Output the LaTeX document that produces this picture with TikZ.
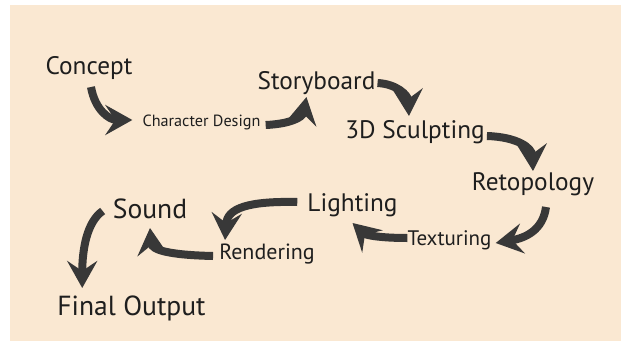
\documentclass[tikz,border=0pt]{standalone}
\usepackage{fontspec}
\setmainfont{PT Sans}
\usetikzlibrary{arrows.meta}
\definecolor{bg}{HTML}{FAE8D2}
\definecolor{ink}{HTML}{1E1E1E}
\definecolor{arrowc}{HTML}{383838}
\begin{document}
\begin{tikzpicture}[x=1pt,y=-1pt,
  lbl/.style={anchor=base, inner sep=0pt, text=ink, font=\fontsize{25.3}{27}\selectfont},
  big/.style={lbl, font=\fontsize{27.6}{29}\selectfont},
  mid/.style={lbl, font=\fontsize{21.5}{23}\selectfont},
  small/.style={lbl, font=\fontsize{16.2}{18}\selectfont},
  flow/.style={draw=arrowc, line width=8pt, -{Stealth[length=27pt,width=30pt,inset=10pt]}}]
\fill[white] (0,0) rectangle (621,343);
\fill[bg] (10,5) rectangle (621,341);
\useasboundingbox (0,0) rectangle (621,343);

\node[lbl]   (concept)    at (89,74)    {Concept};
\node[small] (chardesign) at (201.5,126) {Character Design};
\node[lbl]   (storyboard) at (316.5,89)  {Storyboard};
\node[lbl]   (sculpt)     at (415,138)   {3D Sculpting};
\node[lbl]   (retopo)     at (533,190)   {Retopology};
\node[mid, font=\fontsize{21}{23}\selectfont] (texturing) at (449.5,245) {Texturing};
\node[lbl]   (lighting)   at (352.5,211) {Lighting};
\node[mid, font=\fontsize{22}{24}\selectfont] (rendering) at (267,259) {Rendering};
\node[big]   (sound)      at (150,218)   {Sound};
\node[big]   (final)      at (131.5,315) {Final Output};

\draw[flow] ([shift={(2,13)}]concept.base) .. controls +(4,23) and +(-23,0) .. ([shift={(-10,-6)}]chardesign.base west);
\draw[flow] ([shift={(5,-1)}]chardesign.base east) .. controls +(23,-1) and +(-4,21) .. ([shift={(-10,8)}]storyboard.base);
\draw[flow] ([shift={(2,-6)}]storyboard.base east) .. controls +(19,1) and +(-1,-21) .. ([shift={(-6,-22)}]sculpt.base);
\draw[flow] ([shift={(2,-2)}]sculpt.base east) .. controls +(31,1) and +(-1,-23) .. ([shift={(0,-19)}]retopo.base);
\draw[flow] ([shift={(13,17)}]retopo.base) .. controls +(-3,23) and +(30,-5) .. ([shift={(4,-2)}]texturing.base east);
\draw[flow] ([shift={(0,-7)}]texturing.base west) .. controls +(-28,0) and +(13,12) .. ([shift={(0,12)}]lighting.base);
\draw[flow] ([shift={(-10,-9)}]lighting.base west) .. controls +(-49,-1) and +(2,-32) .. ([shift={(6,-19)}]rendering.base west);
\draw[flow] ([shift={(-6,-3)}]rendering.base west) .. controls +(-44,-1) and +(2,22) .. ([shift={(0,10)}]sound.base);
\draw[flow] ([shift={(-10,-7)}]sound.base west) .. controls +(-16,11) and +(0,-38) .. ([shift={(25,-27)}]final.base west);
\end{tikzpicture}
\end{document}
